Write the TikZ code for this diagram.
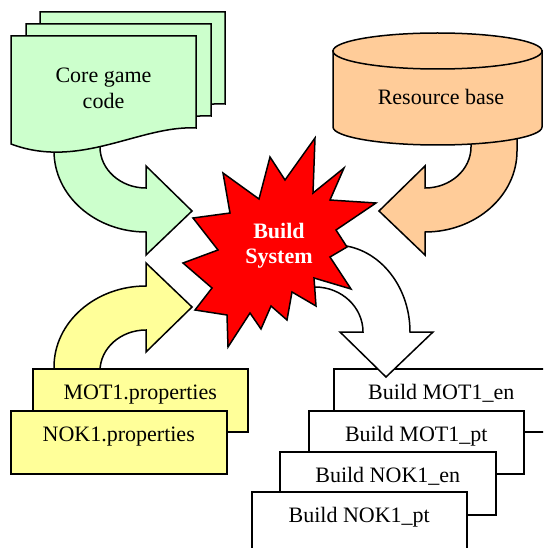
\documentclass[tikz,border=0pt]{standalone}
\usepackage{fontspec}
\setmainfont{Liberation Serif}
\definecolor{codegreen}{HTML}{CCFFCC}
\definecolor{resorange}{HTML}{FFCC99}
\definecolor{propyellow}{HTML}{FFFF99}
\definecolor{burstred}{HTML}{FF0000}
\tikzset{
  edge line/.style={draw=black, line width=1.5pt},
  blockarrow/.style={edge line, line join=miter},
  bigtext/.style={font=\fontsize{22}{26}\selectfont},
  cardbox/.style={edge line, bigtext, rectangle, anchor=north west,
    minimum width=215pt, inner xsep=0pt, inner ysep=0pt,
    text height=31pt, text depth=32pt},
  labeltext/.style={bigtext, align=center, inner sep=0pt},
}
\begin{document}
\begin{tikzpicture}[x=1pt,y=-1pt]
\clip (0,0) rectangle (543,548);

% curved feed arrows (drawn first, their tails hide under the sources)
\draw[blockarrow, fill=codegreen] (54,130) -- (54,151)
  .. controls (54,195.7) and (95.2,232) .. (146,232) -- (146,255) -- (192,211)
  -- (146,166) -- (146,188) .. controls (120.6,188) and (100,169.6) .. (100,147)
  -- (100,130) -- cycle;
\draw[blockarrow, fill=resorange] (517,120) -- (517,151)
  .. controls (517,195.7) and (475.8,232) .. (425,232) -- (425,255) -- (379,211)
  -- (425,166) -- (425,188) .. controls (450.4,188) and (471,169.6) .. (471,147)
  -- (471,120) -- cycle;
\draw[blockarrow, fill=propyellow] (54,390) -- (54,367)
  .. controls (54,322.3) and (95.2,286) .. (146,286) -- (146,263) -- (192,307)
  -- (146,352) -- (146,330) .. controls (120.6,330) and (100,348.4) .. (100,371)
  -- (100,390) -- cycle;

% stacked source documents
\draw[edge line, fill=codegreen] (40,12) -- (225,12) -- (225,104)
  .. controls (169,101) and (109,146) .. (40,120) -- cycle;
\draw[edge line, fill=codegreen] (26,24) -- (211,24) -- (211,116)
  .. controls (155,113) and (95,158) .. (26,132) -- cycle;
\draw[edge line, fill=codegreen] (11,36) -- (196,36) -- (196,128)
  .. controls (140,125) and (80,170) .. (11,144) -- cycle;
\node[labeltext, anchor=base] (coregame) at (103.5,109) {Core game\\code};

% resource database cylinder
\draw[edge line, fill=resorange] (333,51) -- (333,127)
  .. controls (333,136.9) and (379.8,145) .. (437.5,145)
  .. controls (495.2,145) and (542,136.9) .. (542,127) -- (542,51) -- cycle;
\draw[edge line, fill=resorange] (437.5,51) ellipse [x radius=104.5, y radius=18];
\node[labeltext, anchor=base] (resbase) at (441,105) {Resource base};

% property files
\node[cardbox, fill=propyellow] (mot1) at (32,368) {MOT1.properties};
\node[cardbox, fill=propyellow, minimum width=216pt] (nok1) at (10,410) {NOK1.properties};

% build outputs
\node[cardbox, fill=white] (bmoten) at (333,368) {Build MOT1\_en};
\node[cardbox, fill=white] (bmotpt) at (308,410) {Build MOT1\_pt};
\node[cardbox, fill=white, minimum width=216pt] (bnoken) at (279,451) {Build NOK1\_en};
\node[cardbox, fill=white] (bnokpt) at (251,491) {Build NOK1\_pt};

% output arrow
\draw[blockarrow, fill=white] (310,245) -- (335,245)
  .. controls (376.4,245) and (410,284) .. (410,332) -- (433,332) -- (386,377)
  -- (340,332) -- (363,332) .. controls (363,307.1) and (341.5,287) .. (315,287)
  -- (300,287) -- cycle;

% build system explosion
\draw[blockarrow, fill=burstred] (270,157) -- (259,199) -- (223,173) -- (230,213)
  -- (193,218) -- (218,250) -- (183,263) -- (212,288) -- (195,310) -- (227,315)
  -- (228,347) -- (250,313) -- (261,329) -- (271,306) -- (287,320) -- (292,292)
  -- (316,306) -- (314,278) -- (351,289) -- (330,257) -- (347,247) -- (336,230)
  -- (376,203) -- (330,200) -- (344,168) -- (313,193) -- (315,138) -- (285,180)
  -- cycle;
\node[labeltext, anchor=base, text=white, font=\fontsize{22}{25}\selectfont\bfseries]
  (buildsys) at (279,263) {Build\\System};
\end{tikzpicture}
\end{document}
